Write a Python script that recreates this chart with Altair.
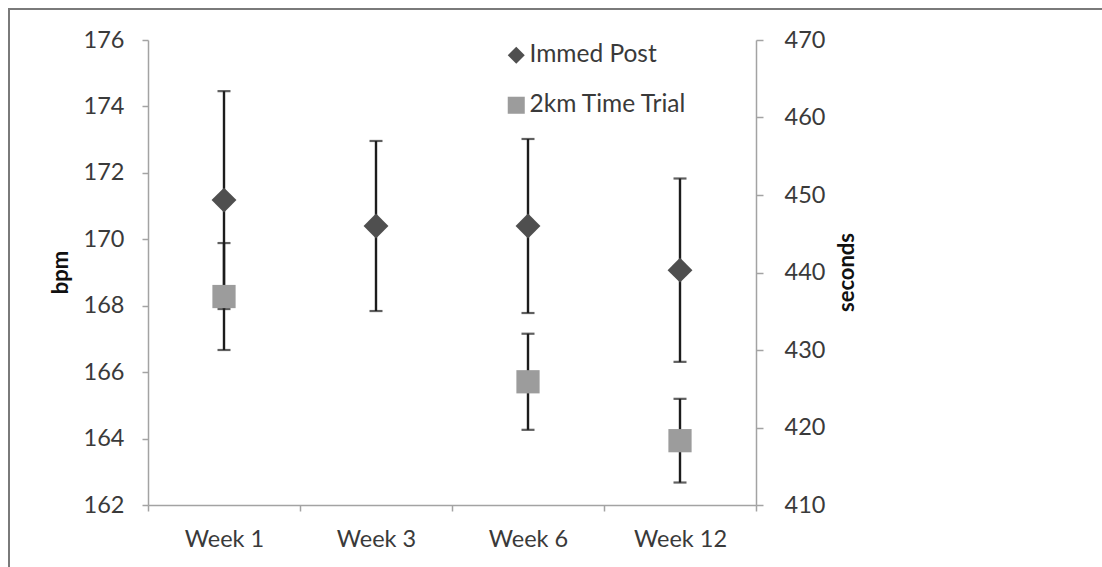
import altair as alt
import pandas as pd

weeks = ["Week 1", "Week 3", "Week 6", "Week 12"]
immed_mean = [171.18, 170.40, 170.40, 169.07]
immed_err = [3.28, 2.56, 2.62, 2.76]

tt_weeks = ["Week 1", "Week 6", "Week 12"]
tt_mean = [436.9, 425.9, 418.3]
tt_err = [6.9, 6.2, 5.4]

series_names = ["Immed Post", "2km Time Trial"]
series_colors = ["#4f4f4f", "#9c9c9c"]
series_shapes = ["diamond", "square"]

bpm_ticks = [162, 164, 166, 168, 170, 172, 174, 176]
sec_ticks = [410, 420, 430, 440, 450, 460, 470]

df_bpm = pd.DataFrame({
    "week": weeks,
    "value": immed_mean,
    "lo": [m - e for m, e in zip(immed_mean, immed_err)],
    "hi": [m + e for m, e in zip(immed_mean, immed_err)],
    "series": series_names[0],
})
df_sec = pd.DataFrame({
    "week": tt_weeks,
    "value": tt_mean,
    "lo": [m - e for m, e in zip(tt_mean, tt_err)],
    "hi": [m + e for m, e in zip(tt_mean, tt_err)],
    "series": series_names[1],
})

FONT = "Lato"
AXIS_GREY = "#a3a3a3"
LABEL_COL = "#3a3a3a"
BAR_COL = "#1c1c1c"
LBL = 23.5
LEG = 24.5

x_enc = alt.X(
    "week:N",
    sort=weeks,
    scale=alt.Scale(domain=weeks, paddingInner=0, paddingOuter=0),
    axis=alt.Axis(
        title=None, labelAngle=0, tickBand="extent", domainColor=AXIS_GREY,
        tickColor=AXIS_GREY, tickSize=6, domainWidth=1.5, tickWidth=1.5,
        labelFont=FONT, labelFontSize=LBL, labelColor=LABEL_COL, labelPadding=16,
    ),
)

leg = alt.Legend(
    title=None, orient="none", legendX=356, legendY=3, padding=0,
    labelFont=FONT, labelFontSize=LEG, labelColor=LABEL_COL, labelOffset=1,
    symbolSize=290, rowPadding=25, symbolStrokeWidth=0,
)
color_enc = alt.Color(
    "series:N",
    scale=alt.Scale(domain=series_names, range=series_colors),
    legend=leg,
)
shape_enc = alt.Shape(
    "series:N",
    scale=alt.Scale(domain=series_names, range=series_shapes),
    legend=leg,
)

y_bpm_scale = alt.Scale(domain=[162, 176], nice=False, zero=False)
y_bpm_axis = alt.Axis(
    values=bpm_ticks, title="bpm", orient="left", grid=False,
    domainColor=AXIS_GREY, tickColor=AXIS_GREY, tickSize=6, domainWidth=1.5, tickWidth=1.5,
    labelFont=FONT, labelFontSize=LBL, labelColor=LABEL_COL, labelPadding=18,
    titleFont=FONT, titleFontSize=22, titleFontWeight="bold", titleColor="#111111",
    titleAngle=270, titleX=-88, titleY=232, titleAlign="center", titleBaseline="middle",
)
y_sec_scale = alt.Scale(domain=[410, 470], nice=False, zero=False)
y_sec_axis = alt.Axis(
    values=sec_ticks, title="seconds", orient="right", grid=False,
    domainColor=AXIS_GREY, tickColor=AXIS_GREY, tickSize=7, domainWidth=1.5, tickWidth=1.5,
    labelFont=FONT, labelFontSize=LBL, labelColor=LABEL_COL, labelPadding=21,
    titleFont=FONT, titleFontSize=22, titleFontWeight="bold", titleColor="#111111",
    titleAngle=270, titleX=90, titleY=232, titleAlign="center", titleBaseline="middle",
)

base_bpm = alt.Chart(df_bpm)
bpm_rule = base_bpm.mark_rule(color=BAR_COL, strokeWidth=2.4).encode(
    x=x_enc, y=alt.Y("lo:Q", scale=y_bpm_scale, axis=y_bpm_axis), y2="hi:Q"
)
bpm_lo = base_bpm.mark_tick(color=BAR_COL, size=13, thickness=2.2).encode(
    x=x_enc, y=alt.Y("lo:Q", scale=y_bpm_scale, axis=y_bpm_axis)
)
bpm_hi = base_bpm.mark_tick(color=BAR_COL, size=13, thickness=2.2).encode(
    x=x_enc, y=alt.Y("hi:Q", scale=y_bpm_scale, axis=y_bpm_axis)
)
bpm_pt = base_bpm.mark_point(filled=True, size=620, opacity=1, strokeWidth=0).encode(
    x=x_enc, y=alt.Y("value:Q", scale=y_bpm_scale, axis=y_bpm_axis),
    color=color_enc, shape=shape_enc,
)
left = alt.layer(bpm_rule, bpm_lo, bpm_hi, bpm_pt)

base_sec = alt.Chart(df_sec)
sec_rule = base_sec.mark_rule(color=BAR_COL, strokeWidth=2.4).encode(
    x=x_enc, y=alt.Y("lo:Q", scale=y_sec_scale, axis=y_sec_axis), y2="hi:Q"
)
sec_lo = base_sec.mark_tick(color=BAR_COL, size=13, thickness=2.2).encode(
    x=x_enc, y=alt.Y("lo:Q", scale=y_sec_scale, axis=y_sec_axis)
)
sec_hi = base_sec.mark_tick(color=BAR_COL, size=13, thickness=2.2).encode(
    x=x_enc, y=alt.Y("hi:Q", scale=y_sec_scale, axis=y_sec_axis)
)
sec_pt = base_sec.mark_point(filled=True, size=540, opacity=1, strokeWidth=0).encode(
    x=x_enc, y=alt.Y("value:Q", scale=y_sec_scale, axis=y_sec_axis),
    color=color_enc, shape=shape_enc,
)
right = alt.layer(sec_rule, sec_lo, sec_hi, sec_pt)

frame = alt.Chart(pd.DataFrame({"f": [0]})).mark_rect(
    fill="transparent", stroke="#7a7a7a", strokeWidth=2
).encode(
    x=alt.value(-139), x2=alt.value(970), y=alt.value(-31), y2=alt.value(560)
)

chart = alt.layer(left, right, frame).resolve_scale(y="independent").properties(
    width=608, height=465,
    autosize=alt.AutoSizeParams(type="none"),
    padding={"left": 148, "top": 40, "right": 346, "bottom": 62},
    background="white",
).configure_view(stroke=None)

chart.save("out.html", embed_options={"renderer": "svg", "actions": False})
